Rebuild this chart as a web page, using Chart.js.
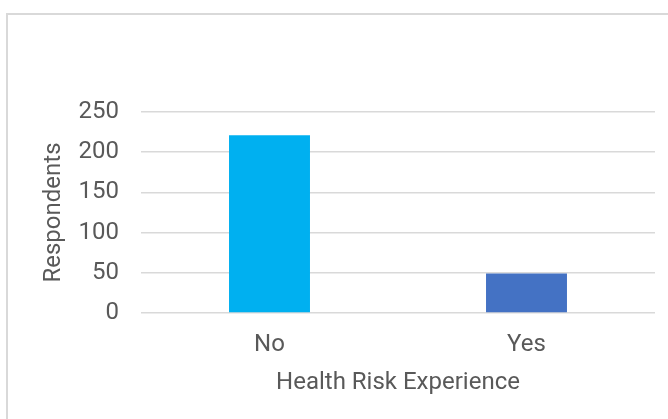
<!DOCTYPE html>
<html>
<head>
<meta charset="utf-8">
<script src="https://cdn.jsdelivr.net/npm/chart.js@4"></script>
<style>
  body { margin: 0; background: #fff; overflow: hidden; }
  #frame { position: absolute; left: 6px; top: 13px; width: 700px; height: 500px; border: 2px solid #d9d9d9; }
  #myChart { position: absolute; left: 0; top: 0; }
</style>
</head>
<body>
<div id="frame"></div>
<canvas id="myChart" width="668" height="419"></canvas>
<script>
'use strict';

// data
let categories = ['No', 'Yes'];
let respondents = [221, 49];
let barColors = ['#00B0F0', '#4472C4'];
let yTicks = [0, 50, 100, 150, 200, 250];

let textGray = '#595959';
let gridGray = '#d9d9d9';
let fontBig = { family: 'Roboto', size: 24 };

let ctx = document.getElementById('myChart').getContext('2d');
let myChart = new Chart(ctx, {
  type: 'bar',
  data: {
    labels: categories,
    datasets: [{
      label: 'Respondents',
      data: respondents,
      backgroundColor: barColors,
      borderWidth: 0,
      categoryPercentage: 1,
      barPercentage: 0.315
    }]
  },
  options: {
    responsive: false,
    animation: false,
    devicePixelRatio: 1,
    layout: { padding: { left: 0, right: 13, top: 112, bottom: 0 } },
    plugins: {
      legend: { display: false },
      tooltip: { enabled: false }
    },
    scales: {
      x: {
        grid: { display: false, drawTicks: false },
        border: { display: false },
        ticks: { color: textGray, font: fontBig, padding: 18 },
        title: {
          display: true,
          text: 'Health Risk Experience',
          color: textGray,
          font: fontBig,
          padding: { top: 4, bottom: 22 }
        },
        afterFit: function(scale) { scale.height = 106; }
      },
      y: {
        min: 0,
        max: 250,
        afterBuildTicks: function(scale) { scale.ticks = yTicks.map(v => ({ value: v })); },
        grid: { color: gridGray, lineWidth: 1.5, drawTicks: false },
        border: { display: false },
        ticks: { color: textGray, font: fontBig, padding: 22 },
        title: {
          display: true,
          text: 'Respondents',
          color: textGray,
          font: fontBig,
          padding: { top: 40, bottom: 0 }
        },
        afterFit: function(scale) { scale.width = 141; }
      }
    }
  }
});
</script>
</body>
</html>
